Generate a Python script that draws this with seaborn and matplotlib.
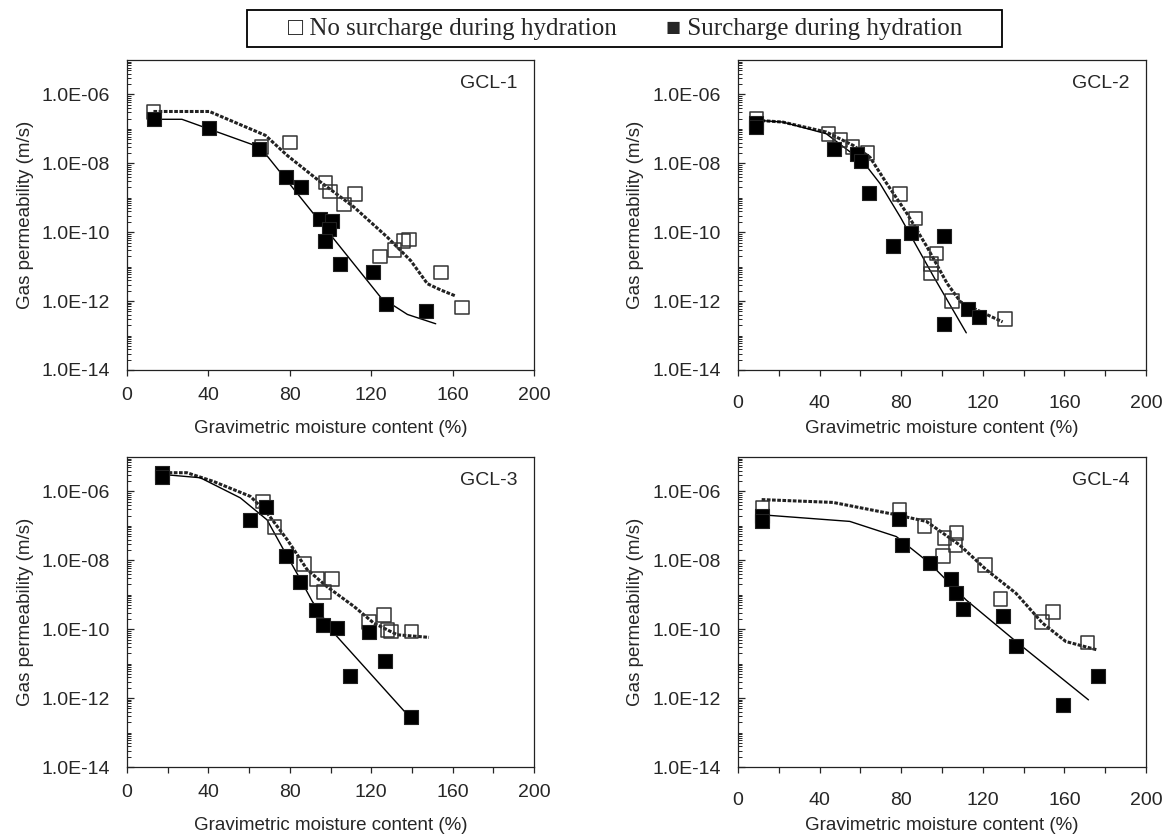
import numpy as np
import seaborn as sns
import matplotlib
matplotlib.use("Agg")
import matplotlib.pyplot as plt
from matplotlib.patches import Rectangle
from matplotlib.ticker import FixedLocator, FuncFormatter, MultipleLocator

# GCL-1
open_x1 = [13, 66, 80, 97.5, 99.7, 112, 106.6, 138.6, 135.8, 131.5, 124.3, 154.2, 164.5]
open_k1 = [3.1e-7, 3.0e-8, 4.0e-8, 2.8e-9, 1.5e-9, 1.3e-9, 6.3e-10, 6.2e-11, 5.6e-11, 3.0e-11, 2.0e-11, 6.8e-12, 6.6e-13]
fill_x1 = [13.5, 40.4, 65, 78.2, 85.5, 94.6, 100.5, 99.2, 97.5, 104.6, 120.8, 127.4, 146.8]
fill_k1 = [1.9e-7, 1.07e-7, 2.6e-8, 3.9e-9, 2.0e-9, 2.5e-10, 2.1e-10, 1.2e-10, 5.6e-11, 1.2e-11, 7e-12, 8e-13, 5.1e-13]
dot_x1 = [13, 40.5, 68, 78.7, 95, 111.5, 127.9, 139.4, 147.6, 154.2, 161.6]
dot_k1 = [3.2e-7, 3.2e-7, 6.5e-8, 1.7e-8, 2.9e-9, 5.4e-10, 7.2e-11, 1.5e-11, 3.2e-12, 2.1e-12, 1.4e-12]
fit_x1 = [12.7, 27, 65.5, 124.6, 137.8, 151.7]
fit_k1 = [1.9e-7, 1.9e-7, 2.9e-8, 1.3e-12, 4.1e-13, 2.2e-13]

# GCL-2
open_x2 = [9, 44.4, 49.9, 56.1, 63.4, 79.5, 86.9, 97.3, 94.6, 94.6, 105, 130.9]
open_k2 = [2e-7, 7.2e-8, 4.7e-8, 3e-8, 2e-8, 1.3e-9, 2.5e-10, 2.4e-11, 1.2e-11, 6.3e-12, 1e-12, 3e-13]
fill_x2 = [9, 9, 46.9, 58.4, 60.2, 64.2, 76.2, 84.9, 100.9, 100.9, 112.8, 118.2]
fill_k2 = [1.5e-7, 1.1e-7, 2.6e-8, 1.9e-8, 1.2e-8, 1.4e-9, 3.9e-11, 9.2e-11, 7.6e-11, 2.1e-13, 5.8e-13, 3.5e-13]
dot_x2 = [9, 21.9, 43.3, 56.5, 64.7, 72.9, 82.8, 92.7, 102.6, 109.1, 119, 129.7]
dot_k2 = [1.78e-7, 1.58e-7, 8.1e-8, 3.3e-8, 1.5e-8, 2.6e-9, 3.5e-10, 3.7e-11, 3.2e-12, 9.5e-13, 4.9e-13, 2.5e-13]
fit_x2 = [9, 21.9, 43.3, 61.4, 69.6, 79.5, 96, 111.9]
fit_k2 = [1.78e-7, 1.58e-7, 7.2e-8, 1.1e-8, 2.6e-9, 2.8e-10, 5e-12, 1.2e-13]

# GCL-3
open_x3 = [17.4, 66.7, 72.4, 86.9, 93.4, 100.8, 96.7, 118.9, 126.3, 129.6, 128, 139.9]
open_k3 = [3.3e-6, 5.1e-7, 9.3e-8, 7.9e-9, 2.9e-9, 2.9e-9, 1.2e-9, 1.6e-10, 2.6e-10, 8.5e-11, 9.5e-11, 8.5e-11]
fill_x3 = [17.4, 17.4, 68.5, 60.6, 78.2, 85.2, 93.1, 96.4, 103.3, 118.9, 126.8, 109.5, 139.7]
fill_k3 = [3.5e-6, 2.6e-6, 3.5e-7, 1.5e-7, 1.3e-8, 2.3e-9, 3.6e-10, 1.3e-10, 1.07e-10, 8.3e-11, 1.2e-11, 4.5e-12, 2.9e-13]
dot_x3 = [17.9, 29.4, 42.5, 60.6, 68.8, 78.7, 88.5, 98.4, 111.5, 121.3, 132.8, 148.4]
dot_k3 = [3.5e-6, 3.5e-6, 1.95e-6, 7.2e-7, 2.4e-7, 4e-8, 5.4e-9, 1.7e-9, 4.6e-10, 1.5e-10, 6.9e-11, 5.8e-11]
fit_x3 = [17.9, 36, 55.7, 68.8, 77, 85.2, 91, 101.6, 138]
fit_k3 = [3.1e-6, 2.5e-6, 6.5e-7, 1.5e-7, 2e-8, 2.8e-9, 6.5e-10, 7.8e-11, 3.2e-13]

# GCL-4
open_x4 = [11.9, 79.2, 91.4, 101.2, 107.2, 106.6, 100.4, 121.1, 128.6, 149, 154.5, 171.3]
open_k4 = [3.3e-7, 3e-7, 9.8e-8, 4.5e-8, 6.2e-8, 2.8e-8, 1.35e-8, 7.4e-9, 7.6e-10, 1.6e-10, 3.2e-10, 4.1e-11]
fill_x4 = [11.9, 11.9, 78.7, 80.3, 94.2, 104.5, 106.9, 110.2, 130.1, 136.3, 159.4, 176.5]
fill_k4 = [1.9e-7, 1.35e-7, 1.6e-7, 2.8e-8, 8.3e-9, 2.9e-9, 1.1e-9, 3.8e-10, 2.5e-10, 3.2e-11, 6.3e-13, 4.3e-12]
dot_x4 = [11.6, 46.6, 77.6, 92.3, 108.6, 121.6, 136.3, 149.3, 160.7, 176.2]
dot_k4 = [5.8e-7, 4.8e-7, 2.1e-7, 1.35e-7, 2.8e-8, 5.4e-9, 1.1e-9, 1.5e-10, 4.4e-11, 2.5e-11]
fit_x4 = [11.6, 54.8, 77.6, 93.9, 111.8, 136.3, 171.8]
fit_k4 = [2.1e-7, 1.35e-7, 4.9e-8, 8.3e-9, 7.1e-10, 4.4e-11, 8.9e-13]

panels = [
    ("GCL-1", open_x1, open_k1, fill_x1, fill_k1, dot_x1, dot_k1, fit_x1, fit_k1),
    ("GCL-2", open_x2, open_k2, fill_x2, fill_k2, dot_x2, dot_k2, fit_x2, fit_k2),
    ("GCL-3", open_x3, open_k3, fill_x3, fill_k3, dot_x3, dot_k3, fit_x3, fit_k3),
    ("GCL-4", open_x4, open_k4, fill_x4, fill_k4, dot_x4, dot_k4, fit_x4, fit_k4),
]

sns.set_style("ticks")
plt.rcParams["font.family"] = ["Liberation Sans", "DejaVu Sans"]

fig = plt.figure(figsize=(11.69, 8.36), dpi=100)
W, H = 1169, 836
# axes boxes in pixels: left, right, top, bottom
boxes = [(127, 534, 60, 370), (738, 1146, 60, 370),
         (127, 534, 457, 767), (738, 1146, 457, 767)]

for i, (name, ox, ok, fx, fk, dx, dk, lx, lk) in enumerate(panels):
    l, r, t, b = boxes[i]
    ax = fig.add_axes([l / W, 1 - b / H, (r - l) / W, (b - t) / H])
    sns.lineplot(x=dx, y=dk, ax=ax, sort=False, estimator=None, color="#222222",
                 lw=2.2, linestyle=(0, (1.2, 0.5)), zorder=2)
    sns.lineplot(x=lx, y=lk, ax=ax, sort=False, estimator=None, color="black",
                 lw=1.0, zorder=2)
    sns.scatterplot(x=ox, y=ok, ax=ax, marker="s", s=95, facecolor="none",
                    edgecolor="#333333", linewidth=1.1, zorder=3)
    sns.scatterplot(x=fx, y=fk, ax=ax, marker="s", s=95, color="black",
                    edgecolor="#222222", linewidth=0.8, zorder=4)
    ax.set_yscale("log")
    ax.set_ylim(1e-14, 1e-5)
    ax.set_xlim(0, 200)
    ax.yaxis.set_major_locator(FixedLocator([10.0 ** e for e in range(-14, -5, 2)]))
    ax.yaxis.set_major_formatter(FuncFormatter(lambda v, p: f"{v:.1E}"))
    minors = [m * 10.0 ** e for e in range(-14, -5) for m in range(1, 10)]
    ax.yaxis.set_minor_locator(FixedLocator(minors))
    ax.yaxis.set_minor_formatter(FuncFormatter(lambda v, p: ""))
    ax.xaxis.set_major_locator(MultipleLocator(40))
    left_col = i % 2 == 0
    if i > 0:
        ax.xaxis.set_minor_locator(MultipleLocator(20))
        ax.tick_params(axis="x", which="minor", direction="out", length=4.3, width=0.9)
    ax.tick_params(axis="x", which="major", direction="out", length=4.3, width=0.9,
                   pad=8 if left_col else 13.5, labelsize=14)
    ax.tick_params(axis="y", which="major", direction="in", length=5, width=0.9,
                   pad=12, labelsize=14)
    ax.tick_params(axis="y", which="minor", direction="in", length=3, width=0.7)
    for sp in ax.spines.values():
        sp.set_color("#222222")
        sp.set_linewidth(0.9)
    ax.set_xlabel("Gravimetric moisture content (%)", fontsize=13.5,
                  labelpad=11.5 if left_col else 5.8)
    ax.set_ylabel("Gas permeability (m/s)", fontsize=13.5, labelpad=6)
    ax.text(0.96, 0.925, name, transform=ax.transAxes, ha="right", va="center",
            fontsize=14)

# legend box across the top
fig.add_artist(Rectangle((247 / W, 1 - 47 / H), 755 / W, 37 / H, transform=fig.transFigure,
                         facecolor="white", edgecolor="black", lw=1.3))
serif = ["Liberation Serif", "DejaVu Serif", "DejaVu Sans"]
fig.text(288 / W, 1 - 29 / H, "\u25a1 No surcharge during hydration", ha="left", va="center",
         fontsize=18, family=serif)
fig.text(666 / W, 1 - 29 / H, "\u25a0 Surcharge during hydration", ha="left", va="center",
         fontsize=18, family=serif)

fig.savefig("out.png", dpi=100)
